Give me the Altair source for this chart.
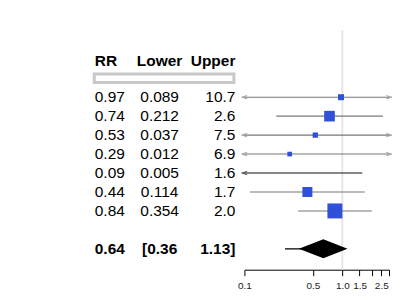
import altair as alt
import pandas as pd

rr = [0.97, 0.74, 0.53, 0.29, 0.09, 0.44, 0.84]
lower = [0.089, 0.212, 0.037, 0.012, 0.005, 0.114, 0.354]
upper = [10.7, 2.6, 7.5, 6.9, 1.6, 1.7, 2.0]
rr_txt = ["0.97", "0.74", "0.53", "0.29", "0.09", "0.44", "0.84"]
lo_txt = ["0.089", "0.212", "0.037", "0.012", "0.005", "0.114", "0.354"]
up_txt = ["10.7", "2.6", "7.5", "6.9", "1.6", "1.7", "2.0"]
weights = [36, 114, 28, 22, 20, 100, 225]
line_col = ["#777777", "#777777", "#777777", "#777777", "#111111", "#777777", "#777777"]

sum_rr, sum_lo, sum_up = 0.64, 0.36, 1.13
sum_pi_lo = 0.26
sum_txt = ["0.64", "[0.36", "1.13]"]
headers = ["RR", "Lower", "Upper"]

xmin, xmax = 0.1, 3.0
tick_vals = [0.1, 0.5, 1.0, 1.5, 2.0, 2.5, 3.0]

n = len(rr)
df = pd.DataFrame({
    "row": list(range(n)), "rr": rr, "lo": lower, "hi": upper,
    "lo_c": [max(v, xmin) for v in lower], "hi_c": [min(v, xmax) for v in upper],
    "rr_t": rr_txt, "lo_t": lo_txt, "up_t": up_txt, "w": weights, "col": line_col,
})
sum_row = n + 1
header_row = -1.9
box_row = -1.0

H = 240
xs = alt.Scale(type="log", domain=[xmin, xmax], nice=False)
ys = alt.Scale(domain=[-3.53, 9.1], reverse=True, nice=False, zero=False)
x_axis = alt.Axis(
    values=tick_vals, grid=False, domainColor="black", tickColor="black",
    tickSize=6, labelFontSize=10, labelColor="#222", labelFont="Liberation Sans",
    labelExpr="datum.value == 0.1 ? '0.1' : (datum.value == 2 || datum.value == 3) ? '' : format(datum.value, '.1f')",
    labelPadding=5, title=None, labelFlush=False, domainWidth=1, tickWidth=1)
X = lambda f: alt.X(f, type="quantitative", scale=xs, axis=x_axis)
Y = alt.Y("row:Q", scale=ys, axis=None)

ref = alt.Chart(pd.DataFrame({"v": [1.0]})).mark_rule(color="#e6e6e6", strokeWidth=2).encode(
    x=X("v"), y=alt.value(0), y2=alt.value(H))

lines = alt.Chart(df).mark_rule(strokeWidth=1.1).encode(
    x=X("lo_c"), x2="hi_c", y=Y, color=alt.Color("col:N", scale=None))

larrow = alt.Chart(df).transform_filter(f"datum.lo < {xmin}").mark_point(
    shape="M 1 -0.6 L -1 0 L 1 0.6", filled=False, size=30, strokeWidth=1).encode(
    x=X("lo_c"), y=Y, color=alt.Color("col:N", scale=None))
rarrow = alt.Chart(df).transform_filter(f"datum.hi > {xmax}").mark_point(
    shape="M -1 -0.6 L 1 0 L -1 0.6", filled=False, size=30, strokeWidth=1).encode(
    x=X("hi_c"), y=Y, color=alt.Color("col:N", scale=None))

boxes = alt.Chart(df).transform_filter(f"datum.rr >= {xmin}").mark_point(
    shape="square", filled=True, opacity=1, color="#3050d8").encode(
    x=X("rr"), y=Y, size=alt.Size("w:Q", scale=None, legend=None))

sum_line = alt.Chart(pd.DataFrame({"a": [sum_pi_lo], "b": [sum_rr], "row": [sum_row]})).mark_rule(
    color="black", strokeWidth=1.2).encode(x=X("a"), x2="b", y=Y)

dia = pd.DataFrame({
    "x": [sum_lo, sum_rr, sum_up],
    "row": [sum_row, sum_row - 0.5, sum_row],
    "row2": [sum_row, sum_row + 0.5, sum_row],
})
diamond = alt.Chart(dia).mark_area(color="black", opacity=1).encode(
    x=X("x"), y=alt.Y("row:Q", scale=ys, axis=None), y2="row2")

FONT = "Liberation Sans"
def txt(field, xpix, align, bold=False, data=df):
    return alt.Chart(data).mark_text(
        align=align, baseline="middle", fontSize=15.5, font=FONT,
        fontWeight="bold" if bold else "normal", color="black").encode(
        x=alt.value(xpix), y=alt.Y("row:Q", scale=ys, axis=None), text=field + ":N")

left0 = 245
rr_x, lo_x, up_x = 95 - left0, 160 - left0, 236 - left0

hdr = pd.DataFrame({"row": [header_row], "a": [headers[0]], "b": [headers[1]], "c": [headers[2]]})
sm = pd.DataFrame({"row": [sum_row], "a": [sum_txt[0]], "b": [sum_txt[1]], "c": [sum_txt[2]]})

texts = [
    txt("rr_t", rr_x, "left"), txt("lo_t", lo_x, "center"), txt("up_t", up_x, "right"),
    txt("a", rr_x, "left", True, hdr), txt("b", lo_x, "center", True, hdr), txt("c", up_x, "right", True, hdr),
    txt("a", rr_x, "left", True, sm), txt("b", lo_x, "center", True, sm), txt("c", up_x, "right", True, sm),
]

box = alt.Chart(pd.DataFrame({"row": [box_row - 0.22], "row2": [box_row + 0.22]})).mark_rect(
    fill=None, stroke="#c8c8c8", strokeWidth=3).encode(
    x=alt.value(94.5 - left0), x2=alt.value(234.5 - left0),
    y=alt.Y("row:Q", scale=ys, axis=None), y2="row2")

chart = alt.layer(ref, lines, larrow, rarrow, boxes, sum_line, diamond, box, *texts).properties(
    width=145, height=H,
    background="white",
    autosize=alt.AutoSizeParams(type="none"),
    padding={"left": 237, "top": 22, "right": 10, "bottom": 23},
).configure_view(stroke=None)

chart.save("out.html", embed_options={"renderer": "svg", "actions": False})
